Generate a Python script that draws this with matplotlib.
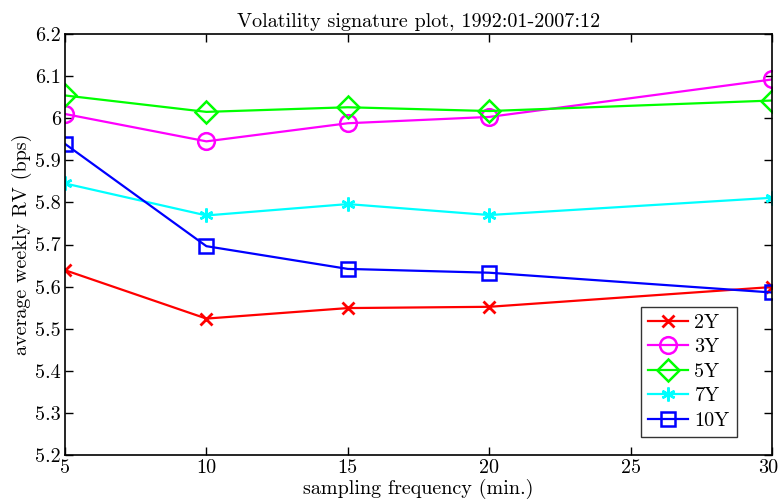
import numpy as np
import matplotlib
matplotlib.use('Agg')
import matplotlib.pyplot as plt
from matplotlib.transforms import ScaledTranslation

plt.rcParams['font.family'] = 'serif'
plt.rcParams['font.serif'] = ['cmr10', 'DejaVu Serif']
plt.rcParams['mathtext.fontset'] = 'cm'
plt.rcParams['axes.formatter.use_mathtext'] = True

freq = [5, 10, 15, 20, 30]
rv_2y = [5.639, 5.524, 5.549, 5.552, 5.599]
rv_3y = [6.010, 5.945, 5.988, 6.003, 6.092]
rv_5y = [6.054, 6.015, 6.026, 6.017, 6.042]
rv_7y = [5.845, 5.769, 5.796, 5.770, 5.811]
rv_10y = [5.939, 5.696, 5.642, 5.633, 5.586]

yticks = [5.2, 5.3, 5.4, 5.5, 5.6, 5.7, 5.8, 5.9, 6.0, 6.1, 6.2]
ytick_labels = ['5.2', '5.3', '5.4', '5.5', '5.6', '5.7', '5.8', '5.9', '6', '6.1', '6.2']
xticks = [5, 10, 15, 20, 25, 30]

fig = plt.figure(figsize=(7.8, 5.01), dpi=100)
ax = fig.add_axes([65/780, 46/501, 707/780, 421/501])

lw = 1.6
ax.plot(freq, rv_2y, color='red', marker='x', lw=lw, ms=9, mew=2, label='2Y')
ax.plot(freq, rv_3y, color='magenta', marker='o', lw=lw, ms=12, mew=1.8, mfc='none', label='3Y')
ax.plot(freq, rv_5y, color=(0, 1, 0), marker='D', lw=lw, ms=11, mew=1.8, mfc='none', label='5Y')
ax.plot(freq, rv_7y, color='cyan', marker=(6, 2, 0), lw=lw, ms=10, mew=1.8, label='7Y')
ax.plot(freq, rv_10y, color='blue', marker='s', lw=lw, ms=9.5, mew=1.8, mfc='none', label='10Y')

ax.set_xlim(5, 30)
ax.set_ylim(5.2, 6.2)
ax.set_xticks(xticks)
ax.set_xticklabels([str(t) for t in xticks])
ax.set_yticks(yticks)
ax.set_yticklabels(ytick_labels)
ax.tick_params(direction='in', top=True, right=True, labelsize=14.5, length=6, width=1, pad=3)
for s in ax.spines.values():
    s.set_linewidth(1.2)

# keep the last x label inside the figure
last = ax.get_xticklabels()[-1]
last.set_transform(last.get_transform() + ScaledTranslation(-4/100, 0, fig.dpi_scale_trans))

ax.set_title('Volatility signature plot, 1992:01-2007:12', fontsize=14.5, pad=5)
ax.set_xlabel('sampling frequency (min.)', fontsize=14.5, labelpad=1)
ax.set_ylabel('average weekly RV (bps)', fontsize=14.5, labelpad=2)

leg = ax.legend(loc='lower right', fontsize=14.5, frameon=True, fancybox=False,
                edgecolor='black', handlelength=2.0, borderpad=0.35, labelspacing=0.32,
                handletextpad=0.3, borderaxespad=0, bbox_to_anchor=(0.95, 0.043))
leg.get_frame().set_linewidth(1.0)

plt.savefig('out.png', dpi=100)
